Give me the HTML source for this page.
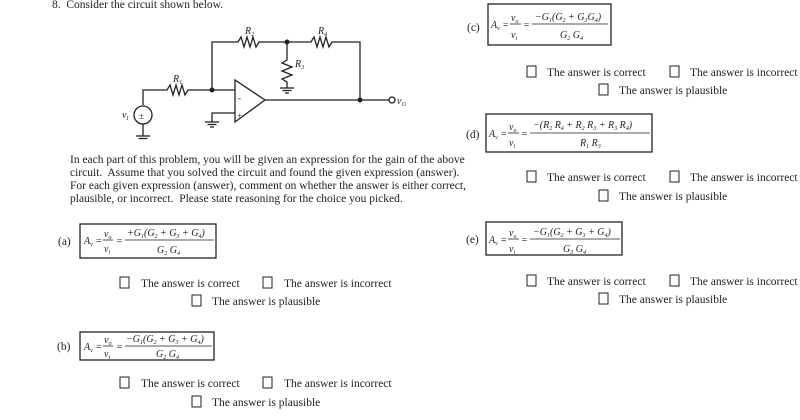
<!DOCTYPE html>
<html><head><meta charset="utf-8"><style>
html,body{margin:0;padding:0;background:#fff;}
svg{display:block;}
text{font-family:"Liberation Serif",serif;fill:#222;}
.t{font-size:11.5px;}
.i{font-style:italic;}
</style></head><body>
<svg width="800" height="420" viewBox="0 0 800 420" xmlns="http://www.w3.org/2000/svg">
<g stroke="#222" stroke-width="1.3" fill="none">
<!-- circuit -->
<polyline points="212,90 212,42 238,42 241,37 244,47 247,37 250,47 253,37 256,47 259,42 287,42 311,42 314,37 317,47 320,37 323,47 326,37 329,47 332,42 360,42 360,100"/>
<polyline points="287,42 287,60 282,63 292,67 282,71 292,75 282,79 287,82 287,88"/>
<line x1="280" y1="88" x2="294" y2="88"/><line x1="282.5" y1="90.5" x2="291.5" y2="90.5"/><line x1="285" y1="93" x2="289" y2="93"/>
<polyline points="143,105 143,90 167,90 170,85 173,95 176,85 179,95 182,85 185,95 188,90 235,90"/>
<circle cx="143" cy="115" r="9"/>
<line x1="143" y1="124" x2="143" y2="136"/>
<line x1="136" y1="136" x2="150" y2="136"/><line x1="138.5" y1="138.5" x2="147.5" y2="138.5"/>
<polygon points="235,80 235,122 265,100"/>
<polyline points="235,113 212,113 212,122"/>
<line x1="205" y1="122" x2="219" y2="122"/><line x1="207.5" y1="124.5" x2="216.5" y2="124.5"/><line x1="210" y1="127" x2="214" y2="127"/>
<line x1="265" y1="100" x2="389" y2="100"/>
<circle cx="392" cy="100" r="3" fill="#fff"/>
<!-- boxes -->
<rect x="80" y="224" width="136" height="34"/>
<rect x="80" y="332" width="134" height="28"/>
<rect x="488" y="4" width="123" height="41"/>
<rect x="486" y="114" width="166" height="38"/>
<rect x="486" y="222" width="136" height="33"/>
<!-- fraction lines -->
<line x1="103" y1="240" x2="113" y2="240" stroke-width="0.8"/><line x1="125" y1="240" x2="214" y2="240" stroke-width="0.8"/>
<line x1="103" y1="346" x2="113" y2="346" stroke-width="0.8"/><line x1="125" y1="346" x2="212" y2="346" stroke-width="0.8"/>
<line x1="510" y1="24" x2="521" y2="24" stroke-width="0.8"/><line x1="532" y1="24" x2="608" y2="24" stroke-width="0.8"/>
<line x1="508" y1="133" x2="519" y2="133" stroke-width="0.8"/><line x1="530" y1="133" x2="650" y2="133" stroke-width="0.8"/>
<line x1="508" y1="239" x2="519" y2="239" stroke-width="0.8"/><line x1="530" y1="239" x2="620" y2="239" stroke-width="0.8"/>
<!-- checkboxes -->
<g stroke-width="1">
<rect x="120" y="277" width="9" height="11"/><rect x="263" y="277" width="9" height="11"/><rect x="192" y="295" width="9" height="11"/>
<rect x="120" y="377" width="9" height="11"/><rect x="263" y="377" width="9" height="11"/><rect x="192" y="396" width="9" height="11"/>
<rect x="527" y="66" width="9" height="11"/><rect x="670" y="66" width="9" height="11"/><rect x="599" y="84" width="9" height="11"/>
<rect x="527" y="171" width="9" height="11"/><rect x="670" y="171" width="9" height="11"/><rect x="599" y="190" width="9" height="11"/>
<rect x="527" y="275" width="9" height="11"/><rect x="670" y="275" width="9" height="11"/><rect x="599" y="293" width="9" height="11"/>
</g>
</g>
<circle cx="212" cy="90" r="2.5" fill="#222"/><circle cx="287" cy="42" r="2.5" fill="#222"/><circle cx="360" cy="100" r="2.5" fill="#222"/>
<g font-size="9">
<text x="238" y="101">-</text><text x="237" y="119">+</text><text x="139" y="119">±</text>
</g>
<g class="i" font-size="10">
<text x="245" y="34">R<tspan font-size="6" dy="2">2</tspan></text>
<text x="318" y="34">R<tspan font-size="6" dy="2">4</tspan></text>
<text x="295" y="67">R<tspan font-size="6" dy="2">3</tspan></text>
<text x="173" y="82">R<tspan font-size="6" dy="2">1</tspan></text>
<text x="122" y="118">v<tspan font-size="6" dy="2">I</tspan></text>
<text x="397" y="104">v<tspan font-size="6" dy="2">O</tspan></text>
</g>
<text class="t" x="52" y="8">8.&#160; Consider the circuit shown below.</text>
<text class="t" x="70" y="163">In each part of this problem, you will be given an expression for the gain of the above</text>
<text class="t" x="70" y="176">circuit.&#160; Assume that you solved the circuit and found the given expression (answer).</text>
<text class="t" x="70" y="189">For each given expression (answer), comment on whether the answer is either correct,</text>
<text class="t" x="70" y="202">plausible, or incorrect.&#160; Please state reasoning for the choice you picked.</text>
<g class="t">
<text x="58" y="245">(a)</text><text x="57" y="350">(b)</text><text x="467" y="31">(c)</text><text x="466" y="138">(d)</text><text x="466" y="243">(e)</text>
<text x="141" y="287">The answer is correct</text><text x="284" y="287">The answer is incorrect</text><text x="212" y="305">The answer is plausible</text>
<text x="141" y="387">The answer is correct</text><text x="284" y="387">The answer is incorrect</text><text x="212" y="406">The answer is plausible</text>
<text x="547" y="76">The answer is correct</text><text x="690" y="76">The answer is incorrect</text><text x="619" y="94">The answer is plausible</text>
<text x="547" y="181">The answer is correct</text><text x="690" y="181">The answer is incorrect</text><text x="619" y="200">The answer is plausible</text>
<text x="547" y="285">The answer is correct</text><text x="690" y="285">The answer is incorrect</text><text x="619" y="303">The answer is plausible</text>
</g>
<g class="i" font-size="10">
<text x="84" y="244">A<tspan font-size="6" dy="2">v</tspan><tspan dy="-2"> =</tspan></text>
<text x="104" y="237">v<tspan font-size="6" dy="2">o</tspan></text><text x="104" y="252">v<tspan font-size="6" dy="2">i</tspan></text>
<text x="116" y="244">=</text>
<text x="127" y="236">+G<tspan font-size="6" dy="2">1</tspan><tspan dy="-2">(G</tspan><tspan font-size="6" dy="2">2</tspan><tspan dy="-2"> + G</tspan><tspan font-size="6" dy="2">3</tspan><tspan dy="-2"> + G</tspan><tspan font-size="6" dy="2">4</tspan><tspan dy="-2">)</tspan></text>
<text x="157" y="253">G<tspan font-size="6" dy="2">2</tspan><tspan dy="-2"> G</tspan><tspan font-size="6" dy="2">4</tspan></text>

<text x="84" y="350">A<tspan font-size="6" dy="2">v</tspan><tspan dy="-2"> =</tspan></text>
<text x="104" y="343">v<tspan font-size="6" dy="2">o</tspan></text><text x="104" y="357">v<tspan font-size="6" dy="2">i</tspan></text>
<text x="116" y="350">=</text>
<text x="126" y="342">−G<tspan font-size="6" dy="2">1</tspan><tspan dy="-2">(G</tspan><tspan font-size="6" dy="2">2</tspan><tspan dy="-2"> + G</tspan><tspan font-size="6" dy="2">3</tspan><tspan dy="-2"> + G</tspan><tspan font-size="6" dy="2">4</tspan><tspan dy="-2">)</tspan></text>
<text x="156" y="357">G<tspan font-size="6" dy="2">2</tspan><tspan dy="-2"> G</tspan><tspan font-size="6" dy="2">4</tspan></text>

<text x="491" y="28">A<tspan font-size="6" dy="2">v</tspan><tspan dy="-2"> =</tspan></text>
<text x="511" y="21">v<tspan font-size="6" dy="2">o</tspan></text><text x="511" y="38">v<tspan font-size="6" dy="2">i</tspan></text>
<text x="523" y="28">=</text>
<text x="535" y="20">−G<tspan font-size="6" dy="2">1</tspan><tspan dy="-2">(G</tspan><tspan font-size="6" dy="2">2</tspan><tspan dy="-2"> + G</tspan><tspan font-size="6" dy="2">3</tspan><tspan dy="-2">G</tspan><tspan font-size="6" dy="2">4</tspan><tspan dy="-2">)</tspan></text>
<text x="560" y="38">G<tspan font-size="6" dy="2">2</tspan><tspan dy="-2"> G</tspan><tspan font-size="6" dy="2">4</tspan></text>

<text x="489" y="137">A<tspan font-size="6" dy="2">v</tspan><tspan dy="-2"> =</tspan></text>
<text x="509" y="130">v<tspan font-size="6" dy="2">o</tspan></text><text x="509" y="146">v<tspan font-size="6" dy="2">i</tspan></text>
<text x="521" y="137">=</text>
<text x="533" y="128">−(R<tspan font-size="6" dy="2">2</tspan><tspan dy="-2"> R</tspan><tspan font-size="6" dy="2">4</tspan><tspan dy="-2"> + R</tspan><tspan font-size="6" dy="2">2</tspan><tspan dy="-2"> R</tspan><tspan font-size="6" dy="2">3</tspan><tspan dy="-2"> + R</tspan><tspan font-size="6" dy="2">3</tspan><tspan dy="-2"> R</tspan><tspan font-size="6" dy="2">4</tspan><tspan dy="-2">)</tspan></text>
<text x="580" y="146">R<tspan font-size="6" dy="2">1</tspan><tspan dy="-2"> R</tspan><tspan font-size="6" dy="2">3</tspan></text>

<text x="489" y="243">A<tspan font-size="6" dy="2">v</tspan><tspan dy="-2"> =</tspan></text>
<text x="509" y="236">v<tspan font-size="6" dy="2">o</tspan></text><text x="509" y="252">v<tspan font-size="6" dy="2">i</tspan></text>
<text x="521" y="243">=</text>
<text x="533" y="235">−G<tspan font-size="6" dy="2">1</tspan><tspan dy="-2">(G</tspan><tspan font-size="6" dy="2">2</tspan><tspan dy="-2"> + G</tspan><tspan font-size="6" dy="2">3</tspan><tspan dy="-2"> + G</tspan><tspan font-size="6" dy="2">4</tspan><tspan dy="-2">)</tspan></text>
<text x="563" y="252">G<tspan font-size="6" dy="2">3</tspan><tspan dy="-2"> G</tspan><tspan font-size="6" dy="2">4</tspan></text>
</g>
</svg>
</body></html>
